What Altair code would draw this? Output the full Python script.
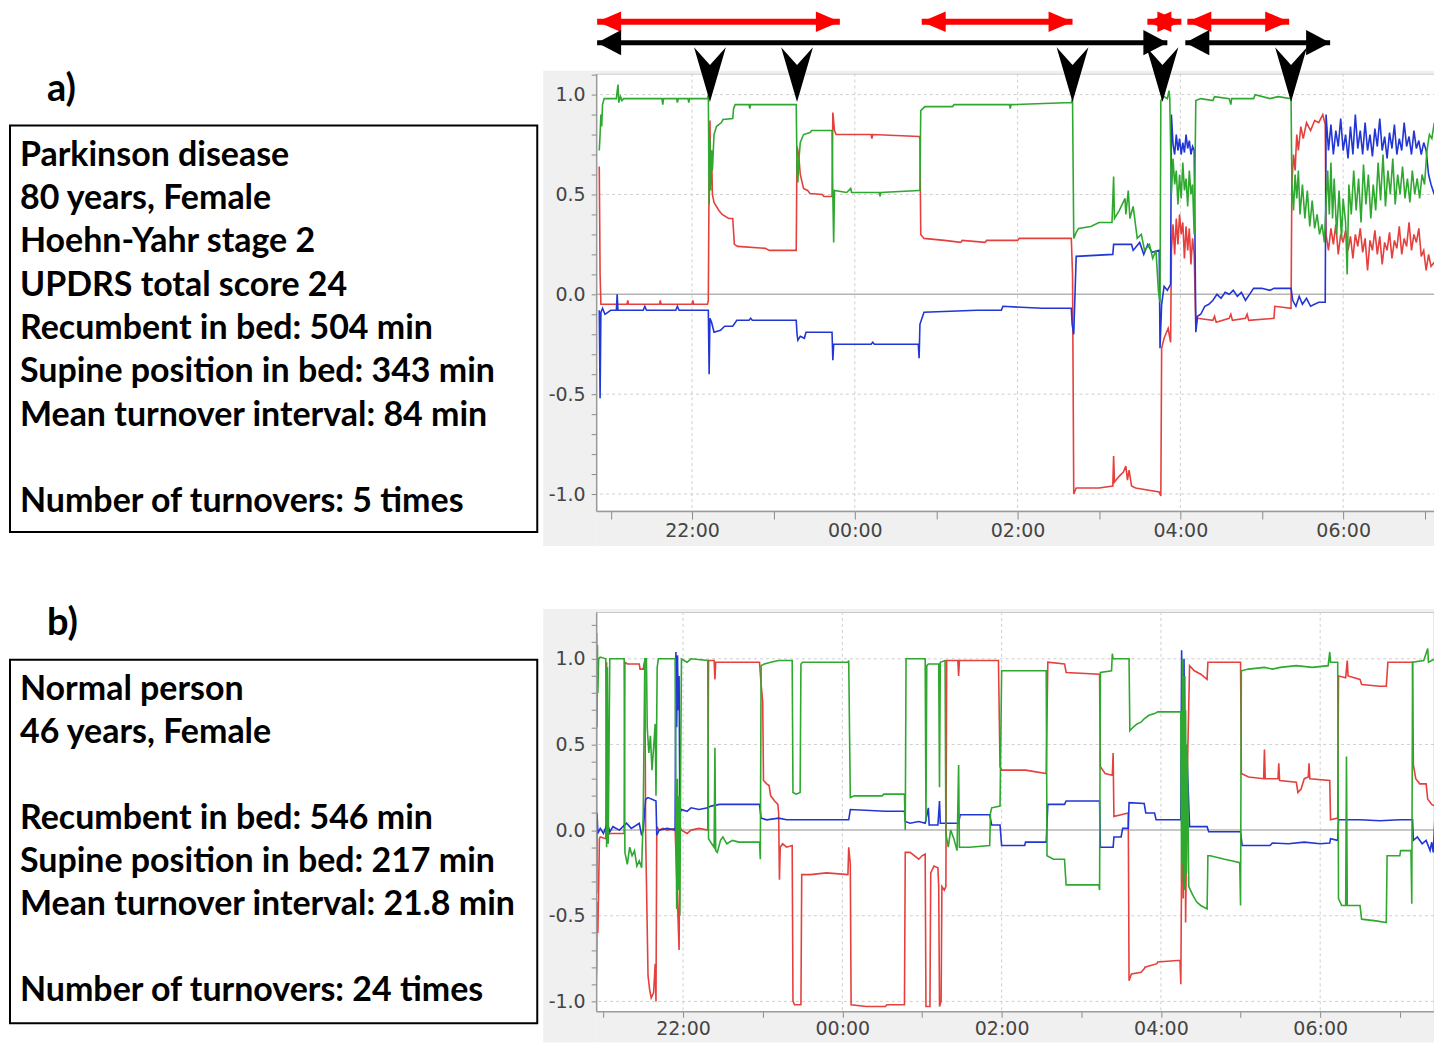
import altair as alt
import pandas as pd

# ---------------- data (time = clock hour, hours after midnight written as 24+) ----------------
a_green = [(20.86, 0.72), (20.87, 0.80), (20.88, 0.90), (20.89, 0.84), (20.90, 0.95), (20.92, 0.98), (21.07, 0.98),
           (21.09, 1.05), (21.10, 0.96), (21.12, 0.99), (21.14, 0.97), (21.16, 0.98), (21.63, 0.98), (21.64, 0.95),
           (21.65, 0.98), (21.81, 0.98), (21.82, 0.96), (21.83, 0.98), (21.95, 0.98), (21.96, 0.96), (21.97, 0.98),
           (22.19, 0.98), (22.20, 1.00), (22.21, 0.45), (22.22, 0.78), (22.23, 0.52), (22.24, 0.72), (22.25, 0.62),
           (22.27, 0.80), (22.30, 0.84), (22.36, 0.86), (22.38, 0.875), (22.50, 0.88), (22.51, 0.93), (22.53, 0.95),
           (22.70, 0.95), (22.71, 0.93), (22.72, 0.95), (23.28, 0.95), (23.29, 0.62), (23.30, 0.56), (23.31, 0.66),
           (23.33, 0.76), (23.37, 0.80), (23.45, 0.81), (23.47, 0.82), (23.72, 0.82), (23.73, 0.50), (23.74, 0.26),
           (23.75, 0.52), (23.90, 0.51), (23.95, 0.53), (23.96, 0.51), (24.30, 0.51), (24.31, 0.49), (24.32, 0.51),
           (24.79, 0.52), (24.80, 0.52), (24.81, 0.92), (24.86, 0.94), (25.20, 0.94), (25.22, 0.95), (25.90, 0.95),
           (25.91, 0.93), (25.92, 0.95), (26.66, 0.96), (26.675, 0.98), (26.69, 0.28), (26.72, 0.31), (26.75, 0.33),
           (26.90, 0.34), (27.00, 0.36), (27.16, 0.36), (27.18, 0.59), (27.19, 0.38), (27.25, 0.42), (27.32, 0.48),
           (27.33, 0.40), (27.36, 0.52), (27.38, 0.38), (27.42, 0.44), (27.47, 0.28), (27.52, 0.30), (27.56, 0.22),
           (27.62, 0.25), (27.66, 0.18), (27.70, 0.22), (27.73, 0.02), (27.75, -0.04), (27.76, 0.97), (27.80, 0.99),
           (27.84, 0.98), (27.86, 1.02), (27.87, 0.98), (27.89, 0.50), (27.91, 0.68), (27.93, 0.55), (27.95, 0.62),
           (27.97, 0.45), (27.99, 0.60), (28.01, 0.48), (28.03, 0.66), (28.05, 0.52), (28.07, 0.58), (28.09, 0.44),
           (28.11, 0.62), (28.13, 0.50), (28.15, 0.55), (28.17, 0.30), (28.19, 0.97), (28.25, 0.98), (28.40, 0.97),
           (28.42, 0.99), (28.60, 0.98), (28.62, 0.95), (28.63, 0.98), (28.90, 0.98), (28.92, 1.00), (29.10, 0.98),
           (29.20, 0.99), (29.36, 0.98), (29.37, 0.56), (29.39, 0.42), (29.41, 0.60), (29.43, 0.48), (29.45, 0.62),
           (29.47, 0.40), (29.50, 0.55), (29.53, 0.38), (29.56, 0.52), (29.59, 0.34), (29.62, 0.47), (29.65, 0.33),
           (29.68, 0.40), (29.71, 0.30), (29.74, 0.35), (29.77, 0.26), (29.79, 0.45), (29.81, 0.62), (29.83, 0.40),
           (29.85, 0.66), (29.87, 0.38), (29.89, 0.58), (29.92, 0.30), (29.95, 0.52), (29.98, 0.28), (30.00, 0.48),
           (30.03, 0.36), (30.05, 0.10), (30.07, 0.55), (30.10, 0.40), (30.13, 0.62), (30.16, 0.42), (30.19, 0.58),
           (30.22, 0.36), (30.25, 0.65), (30.28, 0.45), (30.31, 0.60), (30.34, 0.38), (30.37, 0.55), (30.40, 0.42),
           (30.43, 0.66), (30.46, 0.47), (30.49, 0.70), (30.52, 0.44), (30.55, 0.62), (30.58, 0.50), (30.61, 0.68),
           (30.64, 0.45), (30.67, 0.60), (30.70, 0.50), (30.73, 0.64), (30.76, 0.48), (30.79, 0.58), (30.82, 0.46),
           (30.85, 0.62), (30.88, 0.50), (30.91, 0.58), (30.94, 0.48), (30.97, 0.60), (31.00, 0.55), (31.03, 0.72),
           (31.06, 0.80), (31.09, 0.78), (31.12, 0.86)]

a_red = [(20.86, 0.64), (20.87, 0.10), (20.88, -0.05), (21.20, -0.05), (21.21, -0.03), (21.22, -0.05), (21.60, -0.05),
         (21.61, -0.03), (21.62, -0.05), (22.00, -0.05), (22.01, -0.03), (22.02, -0.05), (22.19, -0.05), (22.20, -0.03),
         (22.21, 0.62), (22.22, 0.87), (22.23, 0.55), (22.24, 0.72), (22.25, 0.50), (22.27, 0.46), (22.33, 0.42),
         (22.37, 0.40), (22.45, 0.38), (22.50, 0.38), (22.52, 0.25), (22.56, 0.24), (22.90, 0.23), (22.95, 0.22),
         (23.28, 0.22), (23.29, 0.74), (23.31, 0.70), (23.33, 0.60), (23.37, 0.53), (23.42, 0.52), (23.45, 0.505),
         (23.60, 0.50), (23.62, 0.49), (23.72, 0.49), (23.73, 0.91), (23.75, 0.82), (23.77, 0.80), (24.20, 0.80),
         (24.21, 0.78), (24.22, 0.80), (24.79, 0.79), (24.80, 0.78), (24.81, 0.30), (24.85, 0.28), (25.10, 0.27),
         (25.30, 0.26), (25.32, 0.27), (25.60, 0.26), (25.62, 0.27), (26.00, 0.27), (26.02, 0.28), (26.66, 0.28),
         (26.675, 0.10), (26.69, -1.00), (26.72, -0.97), (27.00, -0.97), (27.17, -0.96), (27.18, -0.81), (27.19, -0.94),
         (27.25, -0.91), (27.30, -0.89), (27.33, -0.86), (27.35, -0.93), (27.37, -0.88), (27.40, -0.96), (27.45, -0.97),
         (27.74, -0.99), (27.76, -1.01), (27.77, -0.27), (27.80, -0.22), (27.85, -0.17), (27.88, -0.24), (27.89, 0.22),
         (27.91, 0.35), (27.93, 0.20), (27.95, 0.38), (27.97, 0.25), (27.99, 0.40), (28.01, 0.30), (28.03, 0.36),
         (28.05, 0.18), (28.07, 0.34), (28.09, 0.22), (28.11, 0.33), (28.13, 0.15), (28.15, 0.28), (28.17, 0.20),
         (28.19, -0.16), (28.21, -0.12), (28.40, -0.13), (28.42, -0.11), (28.44, -0.14), (28.60, -0.12), (28.62, -0.10),
         (28.64, -0.13), (28.80, -0.12), (28.82, -0.10), (28.84, -0.13), (29.15, -0.12), (29.16, -0.06), (29.36, -0.07),
         (29.37, 0.55), (29.39, 0.70), (29.41, 0.62), (29.43, 0.80), (29.45, 0.72), (29.48, 0.84), (29.51, 0.78),
         (29.55, 0.86), (29.60, 0.82), (29.65, 0.87), (29.70, 0.86), (29.75, 0.90), (29.78, 0.85), (29.79, 0.30),
         (29.82, 0.22), (29.85, 0.33), (29.88, 0.25), (29.91, 0.35), (29.94, 0.20), (29.97, 0.30), (30.00, 0.26),
         (30.03, 0.32), (30.06, 0.22), (30.09, 0.29), (30.12, 0.18), (30.15, 0.30), (30.18, 0.24), (30.21, 0.33),
         (30.24, 0.21), (30.27, 0.28), (30.30, 0.12), (30.33, 0.27), (30.36, 0.22), (30.39, 0.32), (30.42, 0.20),
         (30.45, 0.29), (30.48, 0.15), (30.51, 0.26), (30.54, 0.22), (30.57, 0.31), (30.60, 0.18), (30.63, 0.27),
         (30.66, 0.23), (30.69, 0.34), (30.72, 0.20), (30.75, 0.28), (30.78, 0.24), (30.81, 0.36), (30.84, 0.22),
         (30.87, 0.30), (30.90, 0.26), (30.93, 0.33), (30.96, 0.19), (30.99, 0.22), (31.02, 0.12), (31.05, 0.20),
         (31.08, 0.14), (31.12, 0.16)]

a_blue = [(20.86, -0.08), (20.87, -0.52), (20.88, -0.09), (20.90, -0.07), (20.93, -0.10), (21.00, -0.08), (21.07, -0.08),
          (21.08, 0.00), (21.09, -0.08), (21.40, -0.08), (21.42, -0.06), (21.44, -0.08), (21.80, -0.08), (21.82, -0.06),
          (21.84, -0.08), (22.19, -0.08), (22.20, -0.08), (22.21, -0.40), (22.22, -0.12), (22.24, -0.14), (22.27, -0.19),
          (22.35, -0.18), (22.40, -0.16), (22.50, -0.16), (22.55, -0.13), (22.70, -0.13), (22.72, -0.12), (22.74, -0.13),
          (23.28, -0.13), (23.29, -0.20), (23.30, -0.23), (23.33, -0.21), (23.38, -0.22), (23.40, -0.19), (23.72, -0.19),
          (23.73, -0.33), (23.74, -0.25), (24.20, -0.25), (24.22, -0.24), (24.24, -0.25), (24.78, -0.25), (24.79, -0.32),
          (24.80, -0.15), (24.85, -0.09), (25.50, -0.08), (25.80, -0.08), (25.82, -0.06), (26.30, -0.07), (26.66, -0.07),
          (26.67, -0.15), (26.69, -0.20), (26.72, 0.19), (27.17, 0.20), (27.18, 0.25), (27.40, 0.25), (27.42, 0.22),
          (27.50, 0.26), (27.55, 0.20), (27.60, 0.25), (27.65, 0.21), (27.74, 0.22), (27.75, -0.27), (27.77, -0.05),
          (27.80, 0.04), (27.84, 0.02), (27.88, 0.05), (27.89, 0.90), (27.91, 0.75), (27.93, 0.70), (27.95, 0.80),
          (27.97, 0.72), (27.99, 0.78), (28.01, 0.70), (28.03, 0.76), (28.05, 0.71), (28.07, 0.80), (28.09, 0.73),
          (28.11, 0.77), (28.13, 0.70), (28.15, 0.74), (28.17, 0.72), (28.19, -0.19), (28.21, -0.11), (28.25, -0.10),
          (28.30, -0.06), (28.35, -0.05), (28.40, -0.03), (28.45, 0.00), (28.50, -0.02), (28.55, 0.01), (28.60, 0.00),
          (28.65, 0.02), (28.70, -0.01), (28.75, 0.01), (28.80, -0.03), (28.85, 0.00), (28.90, 0.03), (29.00, 0.03),
          (29.10, 0.02), (29.15, 0.03), (29.36, 0.03), (29.38, -0.03), (29.42, -0.06), (29.46, -0.01), (29.50, -0.05),
          (29.55, -0.02), (29.60, -0.06), (29.70, -0.04), (29.78, -0.04), (29.79, 0.90), (29.82, 0.72), (29.85, 0.85),
          (29.88, 0.70), (29.91, 0.82), (29.94, 0.74), (29.97, 0.88), (30.00, 0.72), (30.03, 0.80), (30.06, 0.68),
          (30.09, 0.84), (30.12, 0.70), (30.15, 0.90), (30.18, 0.73), (30.21, 0.82), (30.24, 0.70), (30.27, 0.86),
          (30.30, 0.72), (30.33, 0.80), (30.36, 0.69), (30.39, 0.83), (30.42, 0.74), (30.45, 0.88), (30.48, 0.72),
          (30.51, 0.79), (30.54, 0.68), (30.57, 0.81), (30.60, 0.73), (30.63, 0.85), (30.66, 0.70), (30.69, 0.78),
          (30.72, 0.72), (30.75, 0.86), (30.78, 0.74), (30.81, 0.79), (30.84, 0.70), (30.87, 0.82), (30.90, 0.73),
          (30.93, 0.77), (30.96, 0.70), (30.99, 0.76), (31.02, 0.72), (31.05, 0.60), (31.08, 0.55), (31.12, 0.50)]

b_green = [(20.91, 0.05), (20.915, 1.15), (20.92, 0.60), (20.925, 1.08), (20.93, 0.80), (20.94, 1.00), (20.96, 1.01),
           (21.03, 1.00), (21.04, -0.10), (21.05, 0.95), (21.06, -0.08), (21.08, 1.00), (21.26, 1.00), (21.27, -0.13),
           (21.30, -0.20), (21.33, -0.10), (21.36, -0.15), (21.39, -0.12), (21.42, -0.21), (21.45, -0.18), (21.48, -0.22),
           (21.50, 0.10), (21.52, 1.00), (21.54, 1.00), (21.55, 0.60), (21.57, 0.45), (21.59, 0.55), (21.61, 0.35),
           (21.63, 0.48), (21.65, 0.62), (21.66, 0.20), (21.675, 0.95), (21.69, 1.00), (21.90, 1.00), (21.91, 0.20),
           (21.92, -0.46), (21.93, 0.30), (21.94, -0.35), (21.95, 0.20), (21.96, -0.50), (21.97, 0.40), (21.98, 1.00),
           (22.05, 0.98), (22.10, 1.00), (22.31, 0.99), (22.32, -0.05), (22.36, -0.08), (22.39, -0.10), (22.40, 0.48),
           (22.41, -0.12), (22.43, -0.13), (22.47, -0.06), (22.50, -0.04), (22.55, -0.08), (22.62, -0.06), (22.70, -0.07),
           (22.96, -0.07), (22.97, -0.17), (22.98, 0.96), (23.02, 0.97), (23.10, 0.98), (23.20, 0.99), (23.37, 0.99),
           (23.38, 0.22), (23.42, 0.21), (23.47, 0.22), (23.48, 0.97), (23.50, 0.98), (24.07, 0.98), (24.08, 0.99),
           (24.10, 0.19), (24.15, 0.20), (24.50, 0.20), (24.52, 0.21), (24.78, 0.21), (24.79, 0.00), (24.80, 1.00),
           (25.04, 1.00), (25.05, 0.05), (25.06, 0.96), (25.08, 0.97), (25.21, 0.97), (25.22, 0.25), (25.23, 0.98),
           (25.29, 0.99), (25.30, -0.02), (25.33, -0.10), (25.36, 0.00), (25.40, -0.05), (25.44, -0.12), (25.46, 0.38),
           (25.47, -0.10), (25.60, -0.10), (25.85, -0.09), (25.86, 0.10), (25.875, 0.13), (25.98, 0.14), (26.00, 0.93),
           (26.30, 0.93), (26.56, 0.93), (26.57, -0.15), (26.65, -0.17), (26.79, -0.17), (26.80, -0.25), (26.81, -0.32),
           (27.22, -0.32), (27.23, -0.35), (27.24, 0.92), (27.38, 0.93), (27.39, 1.03), (27.40, 1.00), (27.60, 1.00),
           (27.61, 0.58), (27.65, 0.60), (27.70, 0.62), (27.75, 0.63), (27.79, 0.65), (27.85, 0.67), (27.92, 0.68),
           (27.96, 0.69), (28.25, 0.69), (28.26, -0.30), (28.27, 1.00), (28.28, -0.20), (28.29, 0.90), (28.30, -0.35),
           (28.31, 0.70), (28.32, -0.25), (28.33, 0.50), (28.35, -0.33), (28.40, -0.38), (28.45, -0.42), (28.50, -0.44),
           (28.58, -0.46), (28.59, -0.15), (28.62, -0.15), (28.80, -0.17), (28.90, -0.18), (28.99, -0.19), (29.00, -0.44),
           (29.01, 0.93), (29.10, 0.94), (29.30, 0.95), (29.40, 0.94), (29.50, 0.95), (29.70, 0.96), (29.90, 0.95),
           (30.10, 0.96), (30.12, 1.04), (30.13, 0.98), (30.22, 0.98), (30.23, -0.40), (30.27, -0.44), (30.32, -0.44),
           (30.33, 0.43), (30.34, -0.44), (30.50, -0.44), (30.52, -0.52), (30.70, -0.53), (30.83, -0.54), (30.84, -0.15),
           (31.00, -0.15), (31.01, -0.12), (31.14, -0.12), (31.15, -0.43), (31.16, 0.98), (31.30, 0.99), (31.35, 1.06),
           (31.36, 0.98), (31.44, 1.00)]

b_red = [(20.91, -0.87), (20.915, -0.80), (20.92, -0.42), (20.93, -0.60), (20.95, -0.05), (20.96, -0.04), (21.03, -0.05),
         (21.04, 0.98), (21.05, -0.03), (21.08, -0.02), (21.26, -0.02), (21.27, 0.98), (21.30, 0.97), (21.45, 0.97),
         (21.46, 0.94), (21.50, 0.94), (21.51, 0.97), (21.52, 0.99), (21.53, -0.02), (21.56, -0.85), (21.58, -0.93),
         (21.60, -0.98), (21.63, -0.95), (21.65, -0.78), (21.66, -1.00), (21.67, 0.02), (21.70, 0.00), (21.75, 0.01),
         (21.80, 0.00), (21.90, 0.01), (21.95, -0.70), (21.96, 0.02), (21.98, 0.00), (22.05, -0.02), (22.10, 0.00),
         (22.20, 0.01), (22.31, 0.00), (22.32, 0.99), (22.39, 0.99), (22.40, 0.88), (22.41, 0.98), (22.96, 0.98),
         (22.98, 0.85), (23.00, 0.75), (23.01, 0.29), (23.05, 0.27), (23.08, 0.26), (23.10, 0.20), (23.15, 0.17),
         (23.19, 0.15), (23.20, 0.10), (23.21, -0.29), (23.22, -0.10), (23.25, -0.08), (23.30, -0.10), (23.37, -0.09),
         (23.38, -1.00), (23.40, -1.02), (23.48, -1.02), (23.49, -0.26), (23.60, -0.26), (23.80, -0.25), (24.07, -0.26),
         (24.08, -0.10), (24.10, -0.20), (24.11, -1.02), (24.30, -1.03), (24.54, -1.03), (24.56, -1.02), (24.78, -1.02),
         (24.79, -0.13), (24.85, -0.13), (24.96, -0.17), (25.00, -0.15), (25.04, -0.14), (25.05, -1.03), (25.10, -1.03),
         (25.11, -0.25), (25.15, -0.21), (25.20, -0.22), (25.21, -0.33), (25.22, -1.03), (25.24, -1.00), (25.25, -0.33),
         (25.28, -0.35), (25.30, -0.33), (25.31, 0.99), (25.45, 0.99), (25.46, 0.90), (25.47, 0.99), (25.96, 0.99),
         (25.98, 0.37), (26.00, 0.35), (26.30, 0.35), (26.56, 0.33), (26.58, 0.98), (26.79, 0.97), (26.81, 0.92),
         (27.23, 0.91), (27.24, 0.37), (27.30, 0.33), (27.39, 0.32), (27.40, 0.45), (27.41, 0.08), (27.50, 0.09),
         (27.59, 0.10), (27.60, -0.88), (27.63, -0.84), (27.75, -0.83), (27.79, -0.81), (27.80, -0.80), (27.95, -0.78),
         (27.96, -0.77), (28.24, -0.76), (28.25, -0.90), (28.27, 0.50), (28.28, -0.40), (28.30, 0.90), (28.31, -0.54),
         (28.33, 0.30), (28.36, 0.96), (28.42, 0.93), (28.50, 0.91), (28.58, 0.88), (28.59, 0.98), (29.00, 0.98),
         (29.01, 0.33), (29.10, 0.31), (29.29, 0.30), (29.30, 0.47), (29.31, 0.30), (29.47, 0.30), (29.48, 0.39),
         (29.49, 0.29), (29.70, 0.28), (29.72, 0.22), (29.76, 0.24), (29.80, 0.30), (29.85, 0.31), (29.86, 0.39),
         (29.87, 0.30), (30.12, 0.29), (30.13, 0.06), (30.22, 0.07), (30.23, 0.90), (30.32, 0.89), (30.34, 0.99),
         (30.35, 0.90), (30.50, 0.88), (30.52, 0.85), (30.75, 0.84), (30.83, 0.84), (30.85, 0.98), (31.16, 0.98),
         (31.17, 0.38), (31.20, 0.30), (31.25, 0.27), (31.33, 0.27), (31.35, 0.18), (31.40, 0.15), (31.44, 0.14)]

b_blue = [(20.91, 0.45), (20.915, -0.37), (20.92, 0.10), (20.93, -0.02), (20.96, 0.01), (21.00, -0.02), (21.05, 0.04),
          (21.08, -0.01), (21.12, 0.02), (21.20, 0.00), (21.29, 0.04), (21.35, 0.01), (21.45, 0.04), (21.48, -0.03),
          (21.50, 0.00), (21.53, 0.18), (21.56, 0.19), (21.66, 0.17), (21.67, -0.03), (21.70, 0.00), (21.80, 0.01),
          (21.90, 0.00), (21.91, 1.04), (21.92, 0.60), (21.93, 1.02), (21.94, 0.70), (21.95, 0.90), (21.96, 0.10),
          (21.98, 0.12), (22.05, 0.11), (22.10, 0.13), (22.20, 0.12), (22.31, 0.13), (22.35, 0.14), (22.46, 0.15),
          (22.96, 0.15), (22.98, 0.07), (23.05, 0.06), (23.20, 0.07), (23.30, 0.06), (24.08, 0.06), (24.10, 0.12),
          (24.54, 0.11), (24.78, 0.11), (24.79, 0.05), (24.85, 0.04), (24.96, 0.05), (25.04, 0.04), (25.08, 0.13),
          (25.09, 0.03), (25.20, 0.03), (25.22, 0.17), (25.23, 0.04), (25.46, 0.04), (25.48, 0.09), (25.85, 0.09),
          (25.875, 0.03), (25.98, 0.03), (26.00, -0.09), (26.29, -0.09), (26.30, -0.07), (26.56, -0.07), (26.58, 0.15),
          (26.79, 0.15), (26.81, 0.17), (27.23, 0.17), (27.24, -0.10), (27.40, -0.10), (27.41, -0.04), (27.50, -0.04),
          (27.52, 0.01), (27.59, 0.01), (27.60, 0.16), (27.79, 0.155), (27.81, 0.10), (27.92, 0.10), (27.94, 0.06),
          (28.25, 0.06), (28.26, 1.05), (28.28, 0.00), (28.29, 1.00), (28.31, -0.20), (28.33, 0.40), (28.36, 0.02),
          (28.58, 0.02), (28.60, -0.01), (29.00, -0.01), (29.02, -0.09), (29.37, -0.09), (29.40, -0.075), (29.60, -0.08),
          (29.80, -0.07), (30.00, -0.08), (30.12, -0.075), (30.13, -0.05), (30.22, -0.06), (30.23, 0.06), (30.50, 0.06),
          (30.75, 0.055), (31.00, 0.06), (31.16, 0.06), (31.17, -0.06), (31.22, -0.04), (31.28, -0.08), (31.33, -0.06),
          (31.38, -0.12), (31.40, -0.07), (31.42, -0.13), (31.44, 0.07)]

turnover_hours = [22.22, 23.29, 26.675, 27.78, 29.36]
red_arrow_start = [20.834, 24.822, 27.595, 28.086]
red_arrow_end = [23.816, 26.675, 28.012, 29.337]
black_arrow_start = [20.834, 28.061]
black_arrow_end = [27.840, 29.840]

text_a = ["Parkinson disease", "80 years, Female", "Hoehn-Yahr stage 2", "UPDRS total score 24",
          "Recumbent in bed: 504 min", "Supine position in bed: 343 min", "Mean turnover interval: 84 min",
          "", "Number of turnovers: 5 times"]
text_b = ["Normal person", "46 years, Female", "", "Recumbent in bed: 546 min",
          "Supine position in bed: 217 min", "Mean turnover interval: 21.8 min", "",
          "Number of turnovers: 24 times"]

hour_ticks = [21, 22, 23, 24, 25, 26, 27, 28, 29, 30, 31]
grid_hours = [22, 24, 26, 28, 30]
grid_levels = [-1.0, -0.5, 0.5, 1.0]
y_ticks = [-1.0, -0.9, -0.8, -0.7, -0.6, -0.5, -0.4, -0.3, -0.2, -0.1, 0.0,
           0.1, 0.2, 0.3, 0.4, 0.5, 0.6, 0.7, 0.8, 0.9, 1.0, 1.1, 1.2]

# ---------------- styling ----------------
SERIES = ["red", "blue", "green"]
COLORS = ["#e5403d", "#2236d6", "#2ea82e"]
GRAY_BG = "#f0f0f0"
TEXT_FONT = "Lato"
TEXT_SIZE = 34
RIGHT_HEAD = "M0,0 L-2,-0.85 L-2,0.85 Z"
LEFT_HEAD = "M0,0 L2,-0.85 L2,0.85 Z"
RIGHT_HEAD_B = "M0,0 L-2,-1.05 L-2,1.05 Z"
LEFT_HEAD_B = "M0,0 L2,-1.05 L2,1.05 Z"
DOWN_HEAD = "M-0.58,-1 L0,-0.35 L0.58,-1 L0,1 Z"


def series_frame(named):
    rows = []
    for name, pts in named:
        for i, (h, v) in enumerate(pts):
            rows.append({"h": h, "v": v, "s": name, "i": i})
    return pd.DataFrame(rows)


def one():
    return pd.DataFrame({"k": [0]})


def make_row(series, W, H, xdom, ydom, lines, label, g, arrows=False):
    xs = alt.Scale(domain=xdom, nice=False, zero=False)
    ys = alt.Scale(domain=ydom, nice=False, zero=False)
    xaxis = alt.Axis(values=hour_ticks, grid=False, tickSize=g["xtick"], tickColor="#8a8a8a", domainColor="#9a9a9a",
                     domainWidth=1.5, labelFont="DejaVu Sans", labelFontSize=19, labelColor="#444444",
                     labelPadding=g["xpad"], labelOverlap=False, zindex=1,
                     labelExpr="datum.value % 2 == 0 ? ((datum.value % 24) < 10 ? '0' : '') + (datum.value % 24) + ':00' : ''")
    yaxis = alt.Axis(values=[t for t in y_ticks if ydom[0] <= t <= ydom[1]], grid=False, tickSize=5,
                     tickColor="#8a8a8a", domainColor="#9a9a9a", domainWidth=1.5, labelFont="DejaVu Sans",
                     labelFontSize=19, labelColor="#444444", labelPadding=6, labelOverlap=False, zindex=1,
                     labelExpr="abs(datum.value*2 - round(datum.value*2)) < 0.01 ? (datum.value < 0 ? '-' + format(-datum.value, '.1f') : format(datum.value, '.1f')) : ''")

    def X(f):
        return alt.X(f"{f}:Q", scale=xs, axis=xaxis, title=None)

    def Y(f):
        return alt.Y(f"{f}:Q", scale=ys, axis=yaxis, title=None)

    L, T, B = g["bg"]
    layers = [
        alt.Chart(one()).mark_rect(color=GRAY_BG).encode(x=alt.value(-L), x2=alt.value(0), y=alt.value(-T), y2=alt.value(H + B)),
        alt.Chart(one()).mark_rect(color=GRAY_BG).encode(x=alt.value(0), x2=alt.value(W + 2), y=alt.value(H), y2=alt.value(H + B)),
        alt.Chart(one()).mark_rect(color=GRAY_BG).encode(x=alt.value(0), x2=alt.value(W + 2), y=alt.value(-T), y2=alt.value(0)),
        alt.Chart(one()).mark_rect(fill="white", stroke="black", strokeWidth=2).encode(
            x=alt.value(g["box"][0]), x2=alt.value(g["box"][1]), y=alt.value(g["box"][2]), y2=alt.value(g["box"][3])),
        alt.Chart(one()).mark_text(align="left", baseline="alphabetic", font=TEXT_FONT, fontSize=38,
                                   fontWeight="bold", color="black").encode(
            x=alt.value(g["lab"][0]), y=alt.value(g["lab"][1]), text=alt.value(label)),
    ]
    # one text mark per (non-empty) line of the description box
    for k, line in enumerate(lines):
        if line:
            layers.append(
                alt.Chart(one()).mark_text(align="left", baseline="alphabetic", font=TEXT_FONT, fontSize=TEXT_SIZE,
                                           fontWeight="bold", color="black").encode(
                    x=alt.value(g["txt"][0]), y=alt.value(g["txt"][1] + k * g["lh"]), text=alt.value(line)))
    layers += [
        alt.Chart(pd.DataFrame({"h": grid_hours})).mark_rule(color="#cfcfcf", strokeDash=[3, 3], strokeWidth=1).encode(x=X("h")),
        alt.Chart(pd.DataFrame({"v": grid_levels})).mark_rule(color="#cfcfcf", strokeDash=[3, 3], strokeWidth=1).encode(y=Y("v")),
        alt.Chart(pd.DataFrame({"v": [0.0]})).mark_rule(color="#b4b4b4", strokeWidth=1.5).encode(y=Y("v")),
        alt.Chart(series_frame(series)).mark_line(strokeWidth=1.6, clip=True).encode(
            x=X("h"), y=Y("v"),
            color=alt.Color("s:N", scale=alt.Scale(domain=SERIES, range=COLORS), legend=None),
            detail="s:N", order="i:Q"),
    ]
    if arrows:
        red = pd.DataFrame({"start": red_arrow_start, "end": red_arrow_end})
        blk = pd.DataFrame({"start": black_arrow_start, "end": black_arrow_end})
        ry, by = -52, -31
        layers += [
            alt.Chart(red).mark_rule(color="#ff0000", strokeWidth=6).encode(x=X("start"), x2="end:Q", y=alt.value(ry)),
            alt.Chart(red).mark_point(shape=RIGHT_HEAD, size=576, filled=True, color="#ff0000", opacity=1, strokeWidth=0).encode(x=X("end"), y=alt.value(ry)),
            alt.Chart(red).mark_point(shape=LEFT_HEAD, size=576, filled=True, color="#ff0000", opacity=1, strokeWidth=0).encode(x=X("start"), y=alt.value(ry)),
            alt.Chart(blk).mark_rule(color="black", strokeWidth=5).encode(x=X("start"), x2="end:Q", y=alt.value(by)),
            alt.Chart(blk).mark_point(shape=RIGHT_HEAD_B, size=576, filled=True, color="black", opacity=1, strokeWidth=0).encode(x=X("end"), y=alt.value(by)),
            alt.Chart(blk).mark_point(shape=LEFT_HEAD_B, size=576, filled=True, color="black", opacity=1, strokeWidth=0).encode(x=X("start"), y=alt.value(by)),
            alt.Chart(pd.DataFrame({"h": turnover_hours})).mark_point(shape=DOWN_HEAD, size=3025, filled=True, color="black", opacity=1, strokeWidth=0).encode(x=X("h"), y=alt.value(1)),
        ]
    return alt.layer(*layers).properties(width=W, height=H)


row_a = make_row([("red", a_red), ("blue", a_blue), ("green", a_green)], 841, 438, [20.822, 31.141], [-1.085, 1.105],
                 text_a, "a)", {"bg": (53, 3, 35), "box": (-587, -59, 52, 459), "lab": (-550, 27),
                                "txt": (-577, 92), "lh": 43.4, "xpad": 3, "xtick": 8}, arrows=True)
row_b = make_row([("red", b_red), ("blue", b_blue), ("green", b_green)], 839, 400, [20.909, 31.429], [-1.058, 1.274],
                 text_b, "b)", {"bg": (53, 3, 31), "box": (-587, -59, 48, 412), "lab": (-550, 23),
                                "txt": (-577, 88), "lh": 43.1, "xpad": 2, "xtick": 6})

chart = alt.vconcat(row_a, row_b, spacing=57).properties(
    padding={"left": 0, "top": 2, "right": -5, "bottom": 0}, background="white"
).configure_view(stroke="#b8b8b8", strokeWidth=1.2)

chart.save("out.html", embed_options={"renderer": "svg", "actions": False})
